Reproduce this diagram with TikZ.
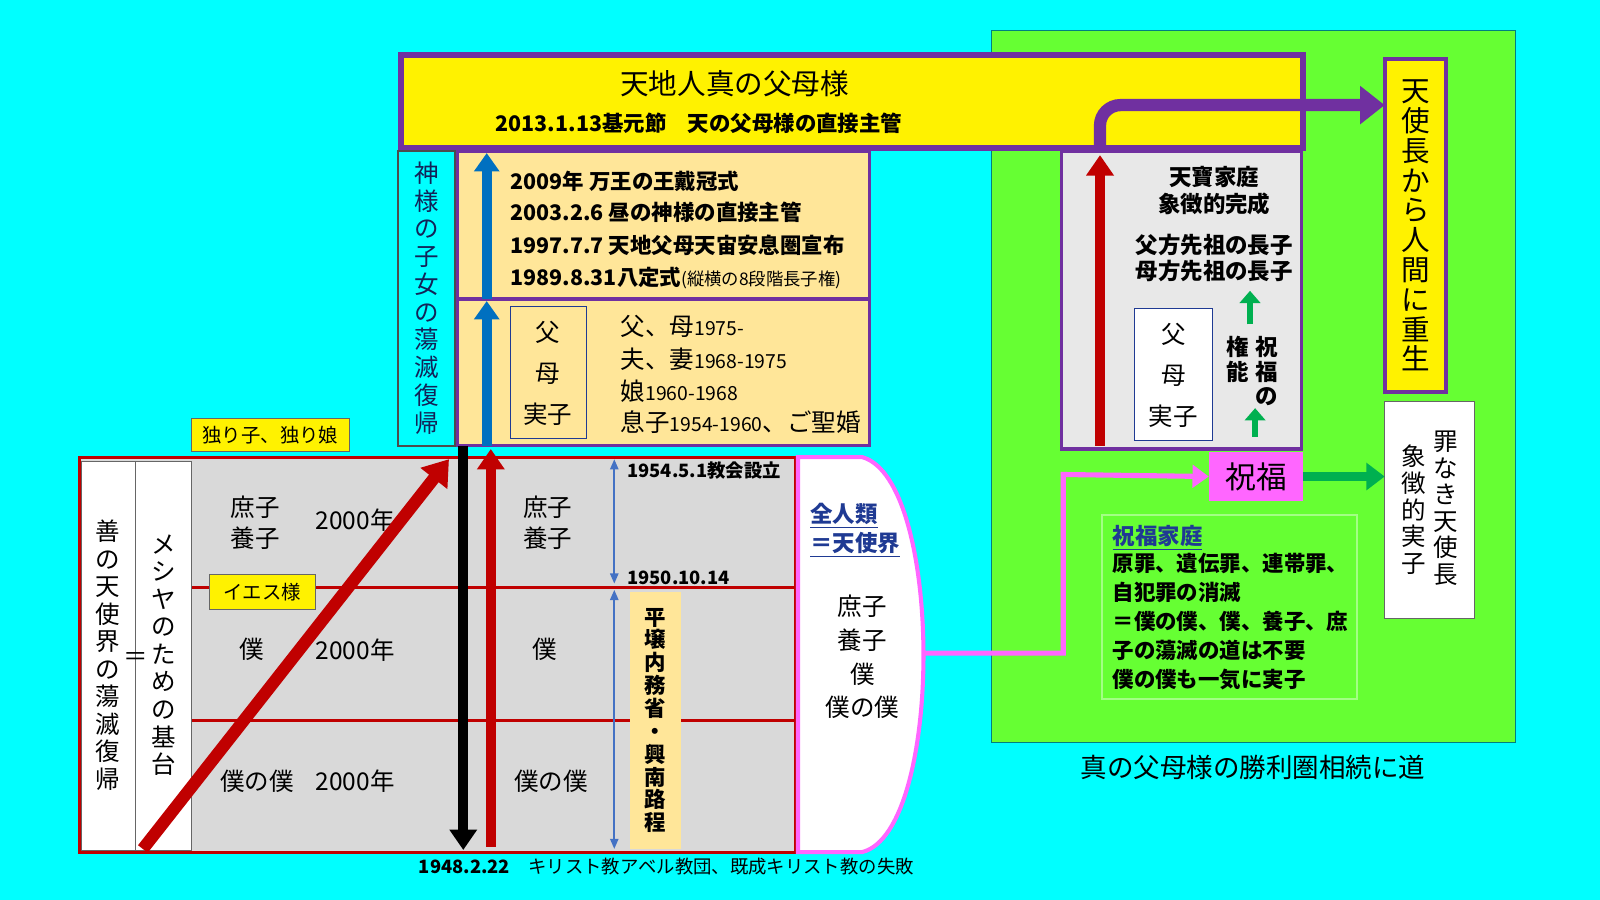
\documentclass[tikz,border=0pt]{standalone}
\usepackage{fontspec}
\setmainfont{Noto Sans CJK JP}
\usetikzlibrary{arrows.meta}
\definecolor{cy}{HTML}{00FFFF}
\definecolor{gr}{HTML}{66FF33}
\definecolor{pu}{HTML}{7030A0}
\definecolor{og}{HTML}{FFE699}
\definecolor{gy}{HTML}{D9D9D9}
\definecolor{rd}{HTML}{C00000}
\definecolor{mg}{HTML}{FF66FF}
\definecolor{bl}{HTML}{0070C0}
\definecolor{gn}{HTML}{00B050}
\definecolor{lb}{HTML}{4472C4}
\definecolor{nv}{HTML}{1F3A93}
\tikzset{
 T/.style={font=\fontsize{11}{13}\selectfont\bfseries, inner sep=0},
 N/.style={font=\fontsize{12}{15}\selectfont, inner sep=0},
 V/.style={font=\fontsize{12}{13.5}\selectfont, align=center, inner sep=0},
 VB/.style={font=\fontsize{13}{15}\selectfont\bfseries, align=center, inner sep=0},
}
\begin{document}
\begin{tikzpicture}[x=0.5pt,y=-0.5pt]
\fill[cy] (0,0) rectangle (1568,882);
\useasboundingbox (0,0) rectangle (1568,882);
% green region
\draw[fill=gr, draw=teal, line width=0.6pt] (972,30) rectangle (1485,728);
\node[N,font=\fontsize{13}{15}\selectfont] (gtitle) at (1228,752) {真の父母様の勝利圏相続に道};
% top yellow
\draw[fill=yellow, draw=pu, line width=3pt] (393,54) rectangle (1277,145);
\node[N,font=\fontsize{14}{16}\selectfont] (ttl) at (720,82) {天地人真の父母様};
\node[T,font=\fontsize{10.5}{13}\selectfont\bfseries] (ttl2) at (685,121) {2013.1.13基元節　天の父母様の直接主管};
% gray region
\draw[fill=gy, draw=rd, line width=1.5pt] (78,448) rectangle (780,835);
\draw[rd, line width=1.5pt] (188,576) -- (780,576) (188,706) -- (780,706);
\draw[fill=white, draw=black!60, line width=0.4pt] (80,452) rectangle (133,833);
\draw[fill=white, draw=black!60, line width=0.4pt] (133,452) rectangle (188,833);
\node[V] (lv1) at (106,642) {善\\の\\天\\使\\界\\の\\蕩\\滅\\復\\帰};
\node[V] (lv2) at (160,642) {メ\\シ\\ヤ\\の\\た\\め\\の\\基\\台};
\node[N] (eq) at (133,646) {＝};
\node[N,align=left] (a1) at (250,512) {庶子\\養子};
\node[N] (a2) at (348,510) {2000年};
\node[N] (b1) at (247,636) {僕};
\node[N] (b2) at (348,637) {2000年};
\node[N] (c1) at (252,766) {僕の僕};
\node[N] (c2) at (348,766) {2000年};
\node[N,align=left] (a3) at (537,512) {庶子\\養子};
\node[N] (b3) at (534,636) {僕};
\node[N] (c3) at (540,766) {僕の僕};
% orange vertical box
\fill[og] (617,580) rectangle (667,832);
\node[VB,font=\fontsize{10.5}{11.2}\selectfont\bfseries] (pyong) at (642,706) {平\\壌\\内\\務\\省\\・\\興\\南\\路\\程};
% labels
\node[draw=black!60,fill=yellow,minimum width=77pt,minimum height=16pt,font=\fontsize{9.5}{11}\selectfont] (hitori) at (265,426) {独り子、独り娘};
\node[draw=black!60,fill=yellow,minimum width=52pt,minimum height=17pt,font=\fontsize{9.5}{11}\selectfont] (iesu) at (257,580) {イエス様};
% blue thin arrows
\coordinate (p1) at (602,450); \coordinate (p2) at (602,572);
\coordinate (p3) at (602,578); \coordinate (p4) at (602,832);
\draw[lb, line width=1pt, {Triangle[length=5pt,width=4pt]}-{Triangle[length=5pt,width=4pt]}] (p1) -- (p2);
\draw[lb, line width=1pt, {Triangle[length=5pt,width=4pt]}-{Triangle[length=5pt,width=4pt]}] (p3) -- (p4);
\node[T,font=\fontsize{9}{11}\selectfont\bfseries] (d1) at (690,461) {1954.5.1教会設立};
\node[T,font=\fontsize{9}{11}\selectfont\bfseries] (d2) at (665,566) {1950.10.14};
\node[font=\fontsize{9}{11}\selectfont, inner sep=0] (d3) at (653,849) {\textbf{1948.2.22}　キリスト教アベル教団、既成キリスト教の失敗};
% D shape
\draw[fill=white, draw=mg, line width=2pt] (782,448) -- (845,448) .. controls (925,470) and (925,815) .. (845,835) -- (782,835) -- cycle;
\node[font=\fontsize{11}{14}\selectfont\bfseries, text=nv, align=left, inner sep=0] (zen) at (838,520) {\underline{全人類}\\\underline{＝天使界}};
\node[N,align=center,font=\fontsize{12}{16.5}\selectfont] (dlist) at (845,644) {庶子\\養子\\僕\\僕の僕};
% cyan vertical
\draw[fill=cy, draw=black!70, line width=0.6pt] (390,148) rectangle (446,437);
\node[V,font=\fontsize{12}{13.6}\selectfont,text=nv!60!black] (kami) at (418,292) {神\\様\\の\\子\\女\\の\\蕩\\滅\\復\\帰};
% orange boxes
\draw[fill=og, draw=pu, line width=1.5pt] (448,148) rectangle (852,293);
\draw[fill=og, draw=pu, line width=1.5pt] (448,293) rectangle (852,437);
\node[T,anchor=west,font=\fontsize{10.5}{13}\selectfont\bfseries] (o1) at (500,178) {2009年 万王の王戴冠式};
\node[T,anchor=west,font=\fontsize{10.5}{13}\selectfont\bfseries] (o2) at (500,208) {2003.2.6 昼の神様の直接主管};
\node[T,anchor=west,font=\fontsize{10.5}{13}\selectfont\bfseries] (o3) at (500,240) {1997.7.7 天地父母天宙安息圏宣布};
\node[T,anchor=west,font=\fontsize{10.5}{13}\selectfont\bfseries] (o4) at (500,272) {1989.8.31八定式{\mdseries\fontsize{8.5}{10}\selectfont (縦横の8段階長子権)}};
\draw[fill=og, draw=nv, line width=0.5pt] (500,300) rectangle (575,430);
\node[V,font=\fontsize{12}{20}\selectfont] (fm1) at (537,366) {父\\母\\実子};
\node[N,anchor=west] (q1) at (608,320) {父、母{\fontsize{9.5}{11}\selectfont 1975-}};
\node[N,anchor=west] (q2) at (608,352) {夫、妻{\fontsize{9.5}{11}\selectfont 1968-1975}};
\node[N,anchor=west] (q3) at (608,383) {娘{\fontsize{9.5}{11}\selectfont 1960-1968}};
\node[N,anchor=west] (q4) at (608,414) {息子{\fontsize{9.5}{11}\selectfont 1954-1960}、ご聖婚};
% blue arrows
\draw[bl, line width=5pt, -{Triangle[length=9pt,width=12pt]}] (477,293) -- (477,150);
\draw[bl, line width=5pt, -{Triangle[length=9pt,width=12pt]}] (477,437) -- (477,295);
% big arrows
\draw[rd, line width=6pt, -{Triangle[length=12pt,width=16pt]}] (140,832) -- (440,450);
\draw[black, line width=5pt, -{Triangle[length=10pt,width=13pt]}] (454,437) -- (454,833);
\draw[rd, line width=5pt, -{Triangle[length=10pt,width=13pt]}] (481,830) -- (481,440);
% right gray box
\draw[fill=gy!60, draw=pu, line width=1.5pt] (1040,148) rectangle (1275,440);
\draw[rd, line width=5pt, -{Triangle[length=10pt,width=13pt]}] (1078,437) -- (1078,152);
\node[T,align=center] (tenpo) at (1190,187) {天寶家庭\\象徴的完成};
\node[T,align=left] (senzo) at (1190,253) {父方先祖の長子\\母方先祖の長子};
\draw[fill=white, draw=nv, line width=0.5pt] (1112,302) rectangle (1188,432);
\node[V,font=\fontsize{12}{20}\selectfont] (fm2) at (1150,368) {父\\母\\実子};
\draw[gn, line width=3pt, -{Triangle[length=6pt,width=10pt]}] (1225,318) -- (1225,285);
\draw[gn, line width=3pt, -{Triangle[length=6pt,width=10pt]}] (1230,428) -- (1230,400);
\node[VB,font=\fontsize{11}{12}\selectfont\bfseries] (shk) at (1241,364) {祝\\福\\の};
\node[VB,font=\fontsize{11}{12}\selectfont\bfseries] (ken) at (1213,352) {権\\能};
% purple arrow
\draw[pu, line width=6pt, rounded corners=10pt, -{Triangle[length=12pt,width=18pt]}] (1078,148) -- (1078,103) -- (1357,103);
% yellow vertical
\draw[fill=yellow, draw=pu, line width=2pt] (1357,58) rectangle (1417,384);
\node[V,font=\fontsize{14}{14.6}\selectfont] (tenshi) at (1387,221) {天\\使\\長\\か\\ら\\人\\間\\に\\重\\生};
% white box
\draw[fill=white, draw=black!60, line width=0.5pt] (1357,393) rectangle (1445,606);
\node[V,font=\fontsize{12}{13}\selectfont,anchor=north] (tsumi) at (1417,422) {罪\\な\\き\\天\\使\\長};
\node[V,font=\fontsize{12}{13}\selectfont,anchor=north] (shocho) at (1385,436) {象\\徴\\的\\実\\子};
% blessing
\node[fill=mg, minimum width=46pt, minimum height=24pt, font=\fontsize{15}{17}\selectfont] (shuku) at (1231,467) {祝福};
\draw[mg, line width=2.5pt, -{Triangle[length=8pt,width=11pt]}] (905,640) -- (1042,640) -- (1042,465) -- (shuku.west);
\draw[gn, line width=4pt, -{Triangle[length=9pt,width=13pt]}] (shuku.east) -- (1357,467);
% blessed family
\draw[fill=gr, draw=gr!60!white, line width=1pt] (1080,505) rectangle (1330,685);
\node[font=\fontsize{11}{14}\selectfont\bfseries, text=nv, anchor=west, inner sep=0] (sfam) at (1090,527) {\underline{祝福家庭}};
\node[T,align=left,anchor=north west,font=\fontsize{10.5}{14.2}\selectfont\bfseries] (sftext) at (1090,542) {原罪、遺伝罪、連帯罪、\\自犯罪の消滅\\＝僕の僕、僕、養子、庶\\子の蕩滅の道は不要\\僕の僕も一気に実子};
\end{tikzpicture}
\end{document}
